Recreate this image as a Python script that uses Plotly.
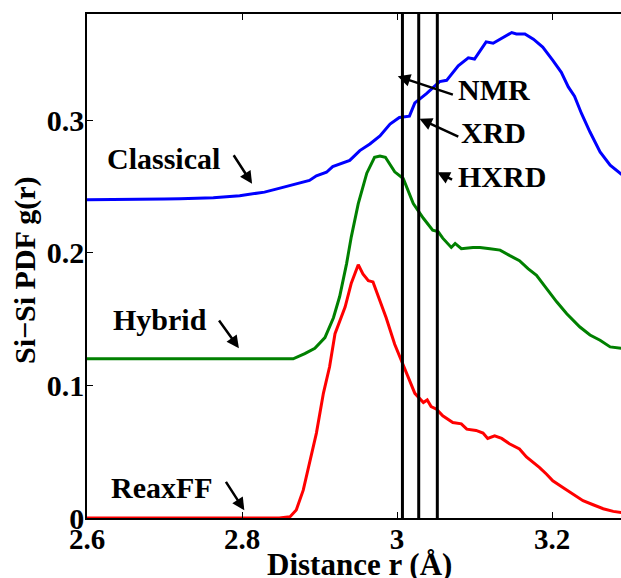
import plotly.graph_objects as go

# ---- data ----
r_classical = [2.60, 2.65, 2.70, 2.72, 2.763, 2.797, 2.829, 2.849, 2.870, 2.887, 2.896, 2.909,
               2.917, 2.930, 2.939, 2.952, 2.965, 2.978, 2.991, 3.003, 3.016, 3.023, 3.038,
               3.055, 3.064, 3.079, 3.092, 3.100, 3.115, 3.124, 3.137, 3.148, 3.154, 3.165,
               3.176, 3.188, 3.201, 3.212, 3.221, 3.229, 3.238, 3.249, 3.262, 3.275, 3.290]
g_classical = [0.240, 0.240, 0.2405, 0.2407, 0.2414, 0.243, 0.2457, 0.2487, 0.252, 0.2545, 0.258,
               0.2607, 0.265, 0.268, 0.2696, 0.277, 0.282, 0.288, 0.297, 0.302, 0.303, 0.313,
               0.320, 0.329, 0.330, 0.341, 0.347, 0.346, 0.359, 0.358, 0.362, 0.366, 0.365,
               0.365, 0.361, 0.355, 0.345, 0.336, 0.325, 0.318, 0.305, 0.291, 0.276, 0.266, 0.259]

r_hybrid = [2.60, 2.70, 2.80, 2.848, 2.866, 2.881, 2.894, 2.907, 2.918, 2.926, 2.935, 2.941,
            2.950, 2.961, 2.971, 2.978, 2.985, 2.997, 3.008, 3.021, 3.034, 3.046, 3.053, 3.059,
            3.070, 3.075, 3.083, 3.098, 3.107, 3.120, 3.133, 3.145, 3.158, 3.169, 3.180, 3.193,
            3.206, 3.219, 3.236, 3.249, 3.262, 3.275, 3.290]
g_hybrid = [0.120, 0.120, 0.120, 0.120, 0.120, 0.124, 0.128, 0.136, 0.151, 0.167, 0.192, 0.212,
            0.237, 0.260, 0.272, 0.273, 0.272, 0.261, 0.256, 0.237, 0.226, 0.217, 0.216, 0.211,
            0.204, 0.207, 0.203, 0.204, 0.204, 0.203, 0.202, 0.198, 0.194, 0.188, 0.183, 0.173,
            0.163, 0.154, 0.144, 0.138, 0.134, 0.129, 0.128]

r_reaxff = [2.60, 2.70, 2.80, 2.848, 2.862, 2.870, 2.879, 2.887, 2.896, 2.905, 2.913, 2.920,
            2.926, 2.933, 2.941, 2.950, 2.956, 2.963, 2.969, 2.978, 2.986, 2.997, 3.008, 3.016,
            3.023, 3.034, 3.039, 3.044, 3.051, 3.059, 3.072, 3.083, 3.090, 3.102, 3.111, 3.117,
            3.126, 3.135, 3.145, 3.158, 3.167, 3.176, 3.184, 3.193, 3.201, 3.214, 3.227, 3.240,
            3.253, 3.266, 3.279, 3.290]
g_reaxff = [0.0, 0.0, 0.0, 0.0, 0.001, 0.006, 0.021, 0.041, 0.064, 0.094, 0.114, 0.139,
            0.149, 0.159, 0.177, 0.191, 0.184, 0.179, 0.178, 0.164, 0.151, 0.131, 0.116, 0.104,
            0.094, 0.087, 0.089, 0.084, 0.082, 0.077, 0.072, 0.071, 0.067, 0.066, 0.064, 0.060,
            0.062, 0.060, 0.056, 0.052, 0.046, 0.042, 0.038, 0.033, 0.028, 0.023, 0.018, 0.013,
            0.010, 0.007, 0.005, 0.004]

exp_names = ["NMR", "XRD", "HXRD"]
exp_positions = [3.007, 3.028, 3.052]

x_ticks = [2.6, 2.8, 3.0, 3.2]
x_tick_labels = ["2.6", "2.8", "3", "3.2"]
y_ticks = [0, 0.1, 0.2, 0.3]
y_tick_labels = ["0", "0.1", "0.2", "0.3"]

FONT = "Liberation Serif"
FS = 30

fig = go.Figure()
for r, g, c in [(r_classical, g_classical, "#0000ff"),
                (r_hybrid, g_hybrid, "#008000"),
                (r_reaxff, g_reaxff, "#ff0000")]:
    fig.add_trace(go.Scatter(x=r, y=g, mode="lines",
                             line=dict(color=c, width=3), showlegend=False,
                             hoverinfo="skip"))

for xv in exp_positions:
    fig.add_shape(type="line", xref="x", yref="paper", x0=xv, x1=xv, y0=0, y1=1,
                  line=dict(color="black", width=3))

# text labels (text position, arrow tail, arrow head) in data coordinates
labels = [
    ("Classical", 2.699, 0.271, 2.788, 0.2746, 2.813, 0.252),
    ("Hybrid", 2.694, 0.150, 2.769, 0.150, 2.796, 0.128),
    ("ReaxFF", 2.697, 0.0228, 2.778, 0.0284, 2.803, 0.0058),
    ("NMR", 3.125, 0.323, 3.074, 0.3188, 3.001, 0.333),
    ("XRD", 3.125, 0.291, 3.081, 0.287, 3.029, 0.301),
    ("HXRD", 3.136, 0.2575, 3.073, 0.2545, 3.052, 0.2607),
]
for txt, tx, ty, ax_, ay_, hx, hy in labels:
    fig.add_annotation(x=tx, y=ty, xref="x", yref="y", text="<b>%s</b>" % txt,
                       showarrow=False, font=dict(family=FONT, size=FS, color="black"),
                       xanchor="center", yanchor="middle")
    fig.add_annotation(x=hx, y=hy, xref="x", yref="y", ax=ax_, ay=ay_,
                       axref="x", ayref="y", text="", showarrow=True,
                       arrowhead=2, arrowsize=1, arrowwidth=2.5, arrowcolor="black",
                       standoff=0, startstandoff=0)

# axis titles
fig.add_annotation(x=0.511, y=-0.092, xref="paper", yref="paper",
                   text="<b>Distance r (Å)</b>", showarrow=False,
                   font=dict(family=FONT, size=31, color="black"),
                   xanchor="center", yanchor="middle")
fig.add_annotation(x=-0.117, y=0.491, xref="paper", yref="paper",
                   text="<b>Si−Si PDF g(r)</b>", showarrow=False, textangle=-90,
                   font=dict(family=FONT, size=30, color="black"),
                   xanchor="center", yanchor="middle")

fig.update_layout(
    width=621, height=578,
    margin=dict(l=87, r=0, t=14, b=60, autoexpand=False),
    plot_bgcolor="white", paper_bgcolor="white",
    font=dict(family=FONT, size=FS, color="black"),
)
fig.update_xaxes(range=[2.6, 3.289], tickvals=x_ticks, ticktext=["<b>%s</b>" % t for t in x_tick_labels],
                 ticks="inside", ticklen=6, tickcolor="black", showline=True, linecolor="black",
                 linewidth=1.5, mirror="ticks", showgrid=False, zeroline=False,
                 ticklabelstandoff=-6,
                 tickfont=dict(family=FONT, size=29, color="black"))
fig.update_yaxes(range=[0, 0.38], tickvals=y_ticks, ticktext=["<b>%s</b>" % t for t in y_tick_labels],
                 ticks="inside", ticklen=6, tickcolor="black", showline=True, linecolor="black",
                 linewidth=1.5, mirror=False, showgrid=False, zeroline=False,
                 ticklabelstandoff=-5,
                 tickfont=dict(family=FONT, size=30, color="black"))

fig.write_html("out.html")
